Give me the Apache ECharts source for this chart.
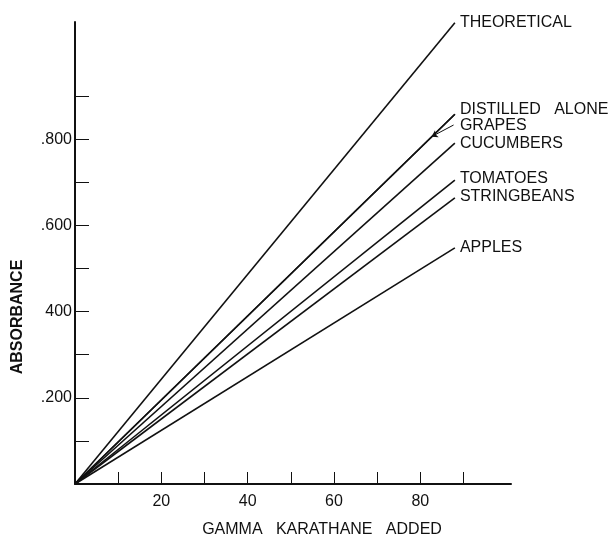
<!DOCTYPE html>
<html>
<head>
<meta charset="utf-8">
<script src="https://cdn.jsdelivr.net/npm/echarts@6/dist/echarts.min.js"></script>
<style>html,body{margin:0;padding:0;background:#fff}#c{width:612px;height:538px}</style>
</head>
<body>
<div id="c"></div>
<script>
// ---- data ----
var xValues = [0, 88];
var theoretical = [0, 1.07];
var distilledAlone = [0, 0.858];
var grapes = [0, 0.858];
var cucumbers = [0, 0.791];
var tomatoes = [0, 0.705];
var stringbeans = [0, 0.664];
var apples = [0, 0.548];
var seriesNames = ['THEORETICAL', 'DISTILLED   ALONE', 'GRAPES', 'CUCUMBERS', 'TOMATOES', 'STRINGBEANS', 'APPLES'];
var xTickValues = [10, 20, 30, 40, 50, 60, 70, 80, 90];
var xLabelValues = [20, 40, 60, 80];
var xLabelTexts = ['20', '40', '60', '80'];
var yTickValues = [0.1, 0.2, 0.3, 0.4, 0.5, 0.6, 0.7, 0.8, 0.9];
var yLabelValues = [0.2, 0.4, 0.6, 0.8];
var yLabelTexts = ['.200', '400', '.600', '.800'];
var xTitle = 'GAMMA   KARATHANE   ADDED';
var yTitle = 'ABSORBANCE';
// grapes arrow (data coords)
var arrowFrom = [87.7, 0.833];
var arrowTo = [82.6, 0.806];

var font = '"Liberation Sans", Arial, sans-serif';
function pts(ys) { return xValues.map(function (x, i) { return [x, ys[i]]; }); }
var allData = [theoretical, distilledAlone, grapes, cucumbers, tomatoes, stringbeans, apples];
var labelOffsets = [[0, 0], [0, -5], [0, 11], [0, 0], [0, -2], [0, -1], [0, 0]];

var series = allData.map(function (d, i) {
  var s = {
    type: 'line', name: seriesNames[i], data: pts(d), symbol: 'none', silent: true,
    lineStyle: { color: '#111', width: 1.6 },
    endLabel: { show: true, formatter: '{a}', distance: 5, offset: labelOffsets[i],
      color: '#111', fontFamily: font, fontSize: 16, fontWeight: 'normal' }
  };
  if (i === 2) {
    s.markLine = {
      silent: true, symbol: ['none', 'arrow'], symbolSize: 6,
      lineStyle: { color: '#111', width: 1, type: 'solid', curveness: 0.35 },
      label: { show: false },
      data: [[{ coord: arrowFrom }, { coord: arrowTo }]]
    };
  }
  return s;
});

var chart = echarts.init(document.getElementById('c'));
chart.setOption({
  animation: false,
  backgroundColor: '#fff',
  grid: { left: 75, right: 101, top: 22, bottom: 54 },
  xAxis: {
    type: 'value', min: 0, max: 101, interval: 10,
    splitLine: { show: false },
    axisLine: { lineStyle: { color: '#111', width: 2 } },
    axisTick: { inside: true, length: 12, customValues: xTickValues, lineStyle: { color: '#111', width: 1 } },
    axisLabel: { customValues: xLabelValues, margin: 10, color: '#111', fontFamily: font, fontSize: 16,
      formatter: function (v) { var k = xLabelValues.indexOf(v); return k >= 0 ? xLabelTexts[k] : ''; } }
  },
  yAxis: {
    type: 'value', min: 0, max: 1.072, interval: 0.1,
    splitLine: { show: false },
    axisLine: { show: true, lineStyle: { color: '#111', width: 2 } },
    axisTick: { show: true, inside: true, length: 14, customValues: yTickValues, lineStyle: { color: '#111', width: 1 } },
    axisLabel: { customValues: yLabelValues, margin: 3, color: '#111', fontFamily: font, fontSize: 16,
      formatter: function (v) {
        for (var k = 0; k < yLabelValues.length; k++) { if (Math.abs(yLabelValues[k] - v) < 1e-6) return yLabelTexts[k]; }
        return '';
      } }
  },
  graphic: [
    { type: 'text', x: 322, y: 530,
      style: { text: xTitle, font: '16px ' + font, fill: '#111', align: 'center', verticalAlign: 'middle' } },
    { type: 'text', rotation: Math.PI / 2, x: 18, y: 317,
      style: { text: yTitle, font: 'bold 16px ' + font, fill: '#111', align: 'center', verticalAlign: 'middle' } }
  ],
  series: series
});
</script>
</body>
</html>
